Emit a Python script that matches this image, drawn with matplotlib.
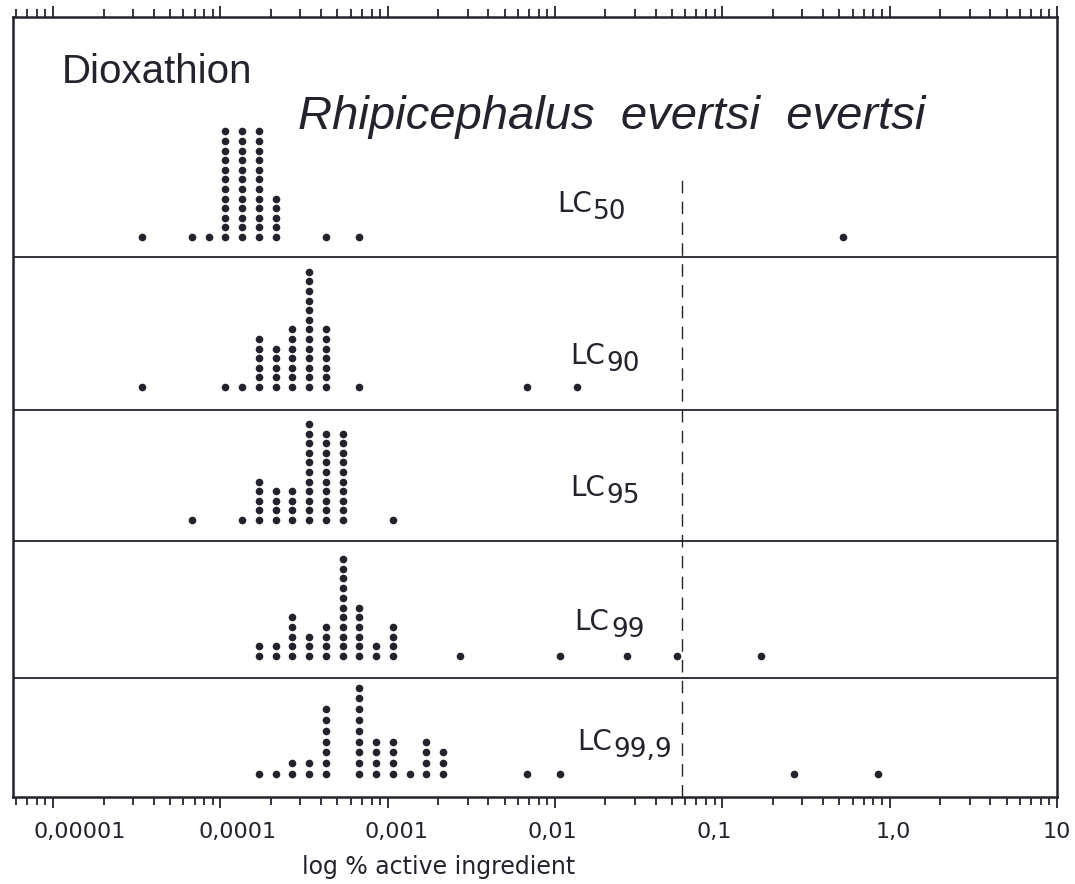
import matplotlib.pyplot as plt
import numpy as np
from matplotlib.ticker import FixedLocator, LogLocator, NullFormatter
from matplotlib.transforms import ScaledTranslation

# log10(% active ingredient) of each dot column and the number of dots in it
lc50_log = [-4.47, -4.17, -4.07, -3.97, -3.87, -3.77, -3.67, -3.37, -3.17, -0.28]
lc50_n = [1, 1, 1, 12, 12, 12, 5, 1, 1, 1]

lc90_log = [-4.47, -3.97, -3.87, -3.77, -3.67, -3.57, -3.47, -3.37, -3.17, -2.17, -1.87]
lc90_n = [1, 1, 1, 6, 5, 7, 13, 7, 1, 1, 1]

lc95_log = [-4.17, -3.87, -3.77, -3.67, -3.57, -3.47, -3.37, -3.27, -2.97]
lc95_n = [1, 1, 5, 4, 4, 11, 10, 10, 1]

lc99_log = [-3.77, -3.67, -3.57, -3.47, -3.37, -3.27, -3.17, -3.07, -2.97,
            -2.57, -1.97, -1.57, -1.27, -0.77]
lc99_n = [2, 2, 5, 3, 4, 11, 6, 2, 4, 1, 1, 1, 1, 1]

lc999_log = [-3.77, -3.67, -3.57, -3.47, -3.37, -3.17, -3.07, -2.97, -2.87, -2.77, -2.67,
             -2.17, -1.97, -0.57, -0.07]
lc999_n = [1, 1, 2, 2, 7, 9, 4, 4, 1, 4, 3, 1, 1, 1, 1]

panel_subs = ["50", "90", "95", "99", "99,9"]
tick_vals = [1e-5, 1e-4, 1e-3, 1e-2, 1e-1, 1.0, 10.0]
tick_labels = ["0,00001", "0,0001", "0,001", "0,01", "0,1", "1,0", "10"]
ref_line = 10 ** -1.24

plt.rcParams['font.family'] = ['DejaVu Sans']

ink = '#23232e'
fig = plt.figure(figsize=(10.75, 8.84), dpi=100)
ax = fig.add_axes([13 / 1075, 1 - 797 / 884, 1044 / 1075, 780 / 884])

# panel layout in pixel units measured from the bottom of the frame
dividers = [540, 387, 256, 119]
baselines = [560, 410, 277, 141, 23]
steps = [9.6, 9.6, 9.6, 9.7, 10.8]
label_pos = [(0.521, 0.760), (0.534, 0.565), (0.534, 0.396), (0.538, 0.224), (0.540, 0.070)]

data = [(lc50_log, lc50_n), (lc90_log, lc90_n), (lc95_log, lc95_n),
        (lc99_log, lc99_n), (lc999_log, lc999_n)]

for (logs, counts), base, step, sub, (lx, ly) in zip(data, baselines, steps, panel_subs, label_pos):
    xs, ys = [], []
    for lg, n in zip(logs, counts):
        xs += [10 ** lg] * n
        ys += list(base + step * np.arange(n))
    ax.plot(xs, ys, 'o', ms=5.5, color=ink, mec='none')
    t = ax.text(lx, ly, "LC", transform=ax.transAxes, fontsize=20,
                va='center', ha='left', color=ink)
    # lowered index, about the same size as the letters
    ax.annotate(sub, xy=(1, 0), xycoords=t, xytext=(1, -5), textcoords='offset points',
                fontsize=19, va='bottom', ha='left', color=ink)

for y in dividers:
    ax.axhline(y, color=ink, lw=1.3)

ax.axvline(ref_line, ymin=0, ymax=0.794, color=ink, lw=1.0, ls=(0, (9, 6)))

ax.text(0.047, 0.929, "Dioxathion", transform=ax.transAxes, fontsize=29,
        va='center', ha='left', color=ink,
        family=['Liberation Sans Narrow', 'Liberation Sans', 'DejaVu Sans'])
ax.text(0.273, 0.872, "Rhipicephalus  evertsi  evertsi", transform=ax.transAxes,
        fontsize=34, style='italic', va='center', ha='left', color=ink,
        family=['Liberation Sans', 'DejaVu Sans'])

ax.set_xscale('log')
ax.set_xlim(10 ** -5.24, 10 ** 1.0)
ax.set_ylim(0, 780)
ax.set_yticks([])
ax.xaxis.set_major_locator(FixedLocator(tick_vals))
ax.set_xticklabels(tick_labels, fontsize=16, color=ink)
ax.xaxis.set_minor_locator(LogLocator(base=10, subs=np.arange(2, 10)))
ax.xaxis.set_minor_formatter(NullFormatter())
ax.tick_params(axis='x', which='both', direction='out', top=True, color=ink, width=1.3)
ax.tick_params(axis='x', which='major', length=8, pad=10)
ax.tick_params(axis='x', which='minor', length=6)

# the printed labels sit a little off their ticks
shifts = [27, 17, 9, -3, -8, 4, 0]
for lab, dx in zip(ax.get_xticklabels(), shifts):
    lab.set_transform(lab.get_transform() + ScaledTranslation(dx / 100, 0, fig.dpi_scale_trans))

for s in ax.spines.values():
    s.set_linewidth(1.8)
    s.set_color(ink)

ax.set_xlabel("log % active ingredient", fontsize=17, color=ink)
ax.xaxis.set_label_coords(0.408, -0.074)

fig.savefig("out.png", dpi=100)
